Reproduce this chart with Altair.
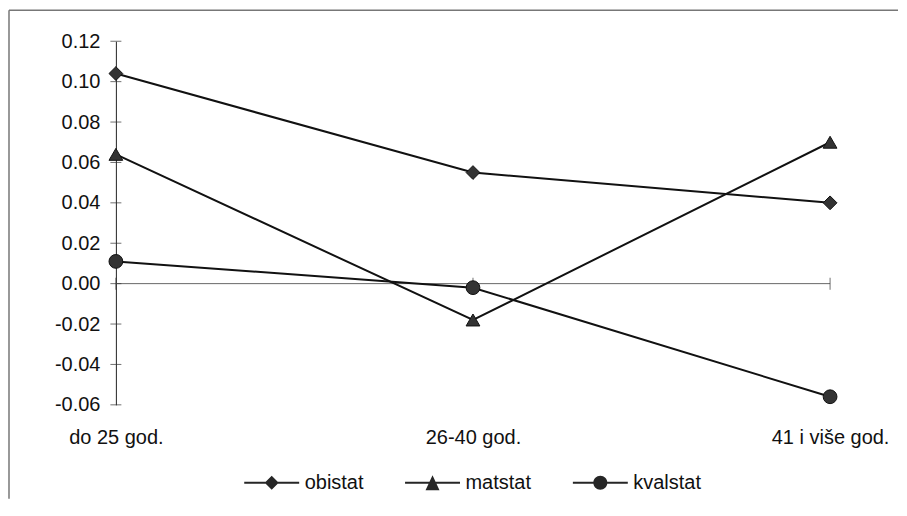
import altair as alt
import pandas as pd

categories = ["do 25 god.", "26-40 god.", "41 i više god."]
series_names = ["obistat", "matstat", "kvalstat"]
obistat = [0.104, 0.055, 0.040]
matstat = [0.064, -0.018, 0.070]
kvalstat = [0.011, -0.002, -0.056]
y_ticks = [-0.06, -0.04, -0.02, 0.0, 0.02, 0.04, 0.06, 0.08, 0.10, 0.12]

FONT = "Liberation Sans"

rows = []
for name, vals in zip(series_names, [obistat, matstat, kvalstat]):
    for c, v in zip(categories, vals):
        rows.append({"kategorija": c, "serija": name, "vrijednost": v})
df = pd.DataFrame(rows)

ytick_df = pd.DataFrame({"kategorija": [categories[0]] * len(y_ticks), "vrijednost": y_ticks})
xtick_df = pd.DataFrame({"kategorija": categories, "vrijednost": [0.0] * len(categories)})

x_axis = alt.Axis(title=None, labelAngle=0, domain=False, ticks=False, tickSize=0,
                  labelPadding=23, labelFontSize=20, labelFont=FONT, labelColor="#111", grid=False)
y_axis = alt.Axis(title=None, values=y_ticks, ticks=False, tickSize=0, labelPadding=16,
                  domainColor="#222", domainWidth=1, grid=False, labelFontSize=20,
                  labelFont=FONT, labelColor="#111",
                  labelExpr="replace(format(datum.value, '.2f'), '\u2212', '-')")
x_scale = alt.Scale(type="point", padding=0, domain=categories)
y_scale = alt.Scale(domain=[-0.06, 0.12], nice=False, zero=False)

X = alt.X("kategorija:N", scale=x_scale, axis=x_axis, sort=categories)
Y = alt.Y("vrijednost:Q", scale=y_scale, axis=y_axis)

zero_line = alt.Chart(xtick_df).mark_line(color="#666", strokeWidth=1).encode(x=X, y=Y)
x_ticks = alt.Chart(xtick_df).mark_tick(orient="vertical", size=12, thickness=1, color="#333").encode(x=X, y=Y)
y_tick_marks = alt.Chart(ytick_df).mark_tick(orient="horizontal", size=11, thickness=1, color="#333").encode(x=X, y=Y)

lines = alt.Chart(df).mark_line(color="#111", strokeWidth=2).encode(x=X, y=Y, detail="serija:N")
points = alt.Chart(df).mark_point(filled=True, size=190, color="#333", opacity=1, stroke="#111", strokeWidth=1).encode(
    x=X, y=Y,
    shape=alt.Shape("serija:N", scale=alt.Scale(domain=series_names, range=["diamond", "triangle-up", "circle"]), legend=None),
)

# legend symbols: a filled thin bar (the line) plus the marker, all clockwise so nonzero fill keeps both
bar = "M-5.5,-0.2H5.5V0.2H-5.5Z"
legend_paths = [
    bar + "M-1.4,0L0,-1.4L1.4,0L0,1.4Z",
    bar + "M0,-1.5L1.4,1.5L-1.4,1.5Z",
    bar + "M-1.4,0A1.4,1.4,0,1,1,1.4,0A1.4,1.4,0,1,1,-1.4,0Z",
]
legend_layer = alt.Chart(df).transform_filter("false").mark_point(
    filled=True, color="#262626", opacity=1, strokeWidth=0
).encode(
    shape=alt.Shape("serija:N", scale=alt.Scale(domain=series_names, range=legend_paths),
                    legend=alt.Legend(title=None, orient="none", legendX=146, legendY=432,
                                      direction="horizontal", columns=3, symbolSize=100,
                                      symbolFillColor="#262626", symbolStrokeWidth=0,
                                      labelOffset=23, columnPadding=41,
                                      labelFontSize=20, labelFont=FONT, labelColor="#111",
                                      padding=0, symbolOpacity=1))
)

frame_df = pd.DataFrame({"a": [0]})
top_border = alt.Chart(frame_df).mark_rule(color="#777", strokeWidth=1.5).encode(
    x=alt.value(-107), x2=alt.value(783), y=alt.value(-31))
left_border = alt.Chart(frame_df).mark_rule(color="#777", strokeWidth=1.5).encode(
    x=alt.value(-107), y=alt.value(-31), y2=alt.value(458))

chart = alt.layer(
    top_border, left_border, zero_line, x_ticks, y_tick_marks, lines, points, legend_layer
).resolve_scale(shape="independent").properties(
    width=715, height=364,
    padding={"left": 0, "top": 1, "right": 0, "bottom": 0},
).configure(background="white").configure_view(stroke=None)

chart.save("out.html", embed_options={"renderer": "svg", "actions": False})
